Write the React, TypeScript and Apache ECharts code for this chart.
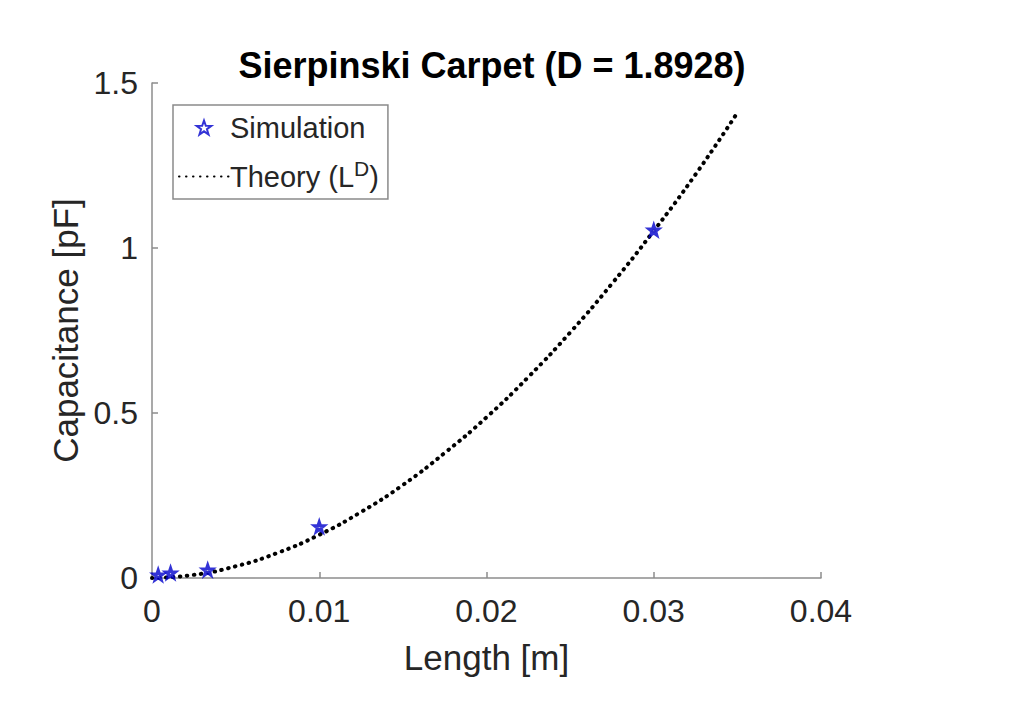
import React, { useEffect, useRef } from "react";
import * as echarts from "echarts";

const simLength = [0.00037, 0.00111, 0.00333, 0.01, 0.03];
const simCap = [0.009, 0.015, 0.024, 0.155, 1.054];

const theoryLength = [0, 0.0025, 0.005, 0.0075, 0.01, 0.0125, 0.015, 0.0175, 0.02, 0.0225, 0.025, 0.0275, 0.03, 0.0325, 0.035];
const theoryCap = [0, 0.0095, 0.0355, 0.076, 0.131, 0.2, 0.282, 0.379, 0.487, 0.609, 0.744, 0.892, 1.052, 1.223, 1.41];

const xTicks = [0, 0.01, 0.02, 0.03, 0.04];
const yTicks = [0, 0.5, 1, 1.5];

const starPath =
  "path://M50,0L61.75,33.8L97.55,34.55L69,56.2L79.4,90.45L50,70L20.6,90.45L31,56.2L2.45,34.55L38.25,33.8Z";

export default function App() {
  const ref = useRef<HTMLDivElement>(null);
  useEffect(() => {
    if (!ref.current) return;
    const chart = echarts.init(ref.current, undefined, { renderer: "svg" });
    const font = "'Liberation Sans', Arial, sans-serif";
    const txt = "#262626";
    chart.setOption({
      animation: false,
      backgroundColor: "#ffffff",
      title: {
        text: "Sierpinski Carpet (D = 1.8928)",
        left: 487,
        textAlign: "center",
        top: 42,
        textStyle: { fontFamily: font, fontSize: 36, fontWeight: "bold", color: "#000" },
      },
      legend: {
        left: 173,
        top: 105,
        orient: "vertical",
        backgroundColor: "#fff",
        borderColor: "#8a8a8a",
        borderWidth: 1.5,
        borderRadius: 0,
        padding: [8, 9, 8, 5],
        itemGap: 16,
        itemWidth: 50,
        itemHeight: 14,
        data: [
          { name: "Simulation" },
          { name: "Theory", itemStyle: { opacity: 0 } },
        ],
        formatter: (name: string) =>
          name === "Theory" ? "{n|Theory (L}{s|D}{n|)}" : "{n|" + name + "}",
        textStyle: {
          fontFamily: font,
          fontSize: 29,
          color: txt,
          padding: [0, 0, 0, -4],
          rich: {
            n: { fontFamily: font, fontSize: 29, color: txt },
            s: { fontFamily: font, fontSize: 21, color: txt, padding: [0, 0, 16, 0] },
          },
        },
      },
      grid: { left: 152, right: 197, top: 83, bottom: 141 },
      xAxis: {
        type: "value",
        min: 0,
        max: 0.04,
        interval: 0.01,
        name: "Length [m]",
        nameLocation: "middle",
        nameGap: 62,
        nameTextStyle: { fontFamily: font, fontSize: 35, color: txt },
        axisLine: { show: true, lineStyle: { color: "#8c8c8c", width: 1.5 } },
        axisTick: { show: true, inside: true, length: 6, lineStyle: { color: "#8c8c8c", width: 1.5 } },
        axisLabel: {
          fontFamily: font,
          fontSize: 32,
          color: txt,
          margin: 17,
          formatter: (v: number) => {
            const i = xTicks.findIndex((t) => Math.abs(t - v) < 1e-9);
            return i >= 0 ? String(xTicks[i]) : "";
          },
        },
        splitLine: { show: false },
      },
      yAxis: {
        type: "value",
        min: 0,
        max: 1.5,
        interval: 0.5,
        name: "Capacitance [pF]",
        nameLocation: "middle",
        nameGap: 54,
        nameTextStyle: { fontFamily: font, fontSize: 35, color: txt },
        axisLine: { show: true, lineStyle: { color: "#8c8c8c", width: 1.5 } },
        axisTick: { show: true, inside: true, length: 6, lineStyle: { color: "#8c8c8c", width: 1.5 } },
        axisLabel: {
          fontFamily: font,
          fontSize: 32,
          color: txt,
          margin: 14,
          formatter: (v: number) => {
            const i = yTicks.findIndex((t) => Math.abs(t - v) < 1e-9);
            return i >= 0 ? String(yTicks[i]) : "";
          },
        },
        splitLine: { show: false },
      },
      series: [
        {
          name: "Theory",
          type: "line",
          data: theoryLength.map((x, i) => [x, theoryCap[i]]),
          smooth: true,
          showSymbol: false,
          symbol: "none",
          lineStyle: { color: "#000", width: 4, type: [0.5, 6.5], cap: "round" },
          itemStyle: { color: "#000" },
          z: 2,
        },
        {
          name: "Simulation",
          type: "scatter",
          data: simLength.map((x, i) => [x, simCap[i]]),
          symbol: starPath,
          symbolSize: 10,
          itemStyle: { color: "#ffffff", borderColor: "#0000cc", borderWidth: 3 },
          z: 3,
        },
      ],
    });
    return () => chart.dispose();
  }, []);
  return <div ref={ref} style={{ width: 1018, height: 719, position: "absolute", left: 0, top: 0 }} />;
}
